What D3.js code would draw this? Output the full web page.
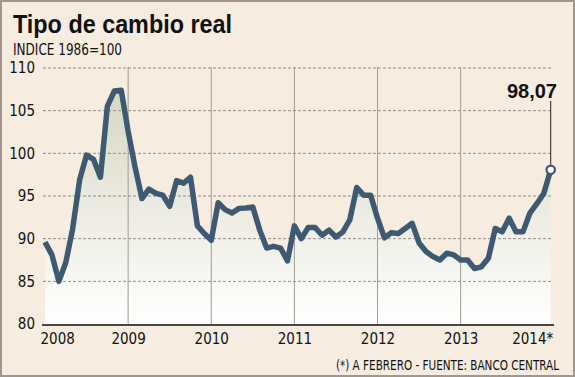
<!DOCTYPE html>
<html>
<head>
<meta charset="utf-8">
<script src="https://cdn.jsdelivr.net/npm/d3@7"></script>
<style>
  body { margin: 0; background: #fff; }
  svg { display: block; }
  .tick text { font-family: "DejaVu Sans Condensed", sans-serif; font-size: 15px; fill: #111; }
</style>
</head>
<body>
<svg width="575" height="377"></svg>
<script>
const svg = d3.select('svg');
const width  = +svg.attr('width');
const height = +svg.attr('height');

// monthly values, Jan 2008 - Feb 2014
const values2008 = [89.6, 88.1, 85.0, 87.2, 91.2, 96.9, 99.8, 99.3, 97.2, 105.5, 107.3, 107.4];
const values2009 = [102.6, 98.4, 94.7, 95.8, 95.3, 95.1, 93.8, 96.8, 96.5, 97.2, 91.5, 90.6];
const values2010 = [89.8, 94.2, 93.4, 93.0, 93.55, 93.6, 93.7, 91.0, 88.9, 89.1, 88.9, 87.4];
const values2011 = [91.5, 90.0, 91.3, 91.3, 90.4, 91.0, 90.2, 90.8, 92.2, 96.0, 95.1, 95.1];
const values2012 = [92.4, 90.1, 90.7, 90.6, 91.2, 91.8, 89.5, 88.5, 87.9, 87.5, 88.3, 88.1];
const values2013 = [87.5, 87.5, 86.5, 86.7, 87.7, 91.2, 90.8, 92.4, 90.8, 90.8, 93.0, 94.1];
const values2014 = [95.3, 98.07];
const years = ['2008', '2009', '2010', '2011', '2012', '2013', '2014*'];
const yTicks = [80, 85, 90, 95, 100, 105, 110];
const lastLabel = '98,07';

const data = [].concat(values2008, values2009, values2010, values2011, values2012, values2013, values2014)
  .map((v, i) => ({month: i, value: v}));

const x = d3.scaleLinear().domain([0, 73]).range([45, 550.7]);
const y = d3.scaleLinear().domain([80, 110]).range([324, 68]);

// background + frame
svg.append('rect')
    .attr('x', 1).attr('y', 1)
    .attr('width', width - 2).attr('height', height - 2)
    .attr('fill', '#f6ecdf')
    .attr('stroke', '#a3968f')
    .attr('stroke-width', 2);

// gradient for the area under the line
const grad = svg.append('defs').append('linearGradient')
    .attr('id', 'fillGrad')
    .attr('gradientUnits', 'userSpaceOnUse')
    .attr('x1', 0).attr('x2', 0)
    .attr('y1', y(108)).attr('y2', y(80));
grad.append('stop').attr('offset', '0%').attr('stop-color', '#d6d6c2');
grad.append('stop').attr('offset', '100%').attr('stop-color', '#ffffff');

const area = d3.area()
    .x(d => x(d.month))
    .y0(y(80))
    .y1(d => y(d.value));

svg.append('path')
    .datum(data)
    .attr('fill', 'url(#fillGrad)')
    .attr('d', area);

// horizontal dashed grid
svg.append('g')
  .selectAll('line')
  .data(yTicks.filter(t => t > 80))
  .join('line')
    .attr('x1', 43).attr('x2', 553)
    .attr('y1', d => y(d)).attr('y2', d => y(d))
    .attr('stroke', '#968d86')
    .attr('stroke-width', 1)
    .attr('stroke-dasharray', '3,2');

// vertical year lines
svg.append('g')
  .selectAll('line')
  .data(d3.range(1, 6))
  .join('line')
    .attr('x1', d => x(d * 12)).attr('x2', d => x(d * 12))
    .attr('y1', y(110) - 1).attr('y2', y(80))
    .attr('stroke', '#a29b96')
    .attr('stroke-width', 1);

// the line
const line = d3.line()
    .x(d => x(d.month))
    .y(d => y(d.value));

svg.append('path')
    .datum(data)
    .attr('fill', 'none')
    .attr('stroke', '#3e5a72')
    .attr('stroke-width', 5.5)
    .attr('stroke-linejoin', 'round')
    .attr('d', line);

// y axis labels
const yAxis = svg.append('g')
    .attr('transform', 'translate(37,0)')
    .call(d3.axisLeft(y).tickValues(yTicks).tickSize(0).tickPadding(2));
yAxis.select('.domain').remove();

// x axis
const xAxis = svg.append('g')
    .attr('transform', `translate(0,${y(80) + 1})`)
    .call(d3.axisBottom(x)
      .tickValues(d3.range(0, 73, 12))
      .tickFormat((d, i) => years[i])
      .tickSize(0).tickPadding(8));
xAxis.select('.domain').remove();
xAxis.append('line')
    .attr('x1', 42).attr('x2', 554)
    .attr('stroke', '#111').attr('stroke-width', 1.6);
xAxis.selectAll('.tick').filter((d, i) => i === 0)
    .select('text').attr('text-anchor', 'start').attr('x', -5);
xAxis.selectAll('.tick').filter((d, i) => i === years.length - 1)
    .select('text').attr('text-anchor', 'end').attr('x', 9);

// last value annotation
const last = data[data.length - 1];
svg.append('line')
    .attr('x1', x(last.month)).attr('x2', x(last.month))
    .attr('y1', 101).attr('y2', y(last.value))
    .attr('stroke', '#222').attr('stroke-width', 1);
svg.append('circle')
    .attr('cx', x(last.month)).attr('cy', y(last.value))
    .attr('r', 4.2)
    .attr('fill', '#fff')
    .attr('stroke', '#3e5a72')
    .attr('stroke-width', 2.2);
svg.append('text')
    .attr('x', 557).attr('y', 98)
    .attr('text-anchor', 'end')
    .attr('font-family', '"Liberation Sans", sans-serif')
    .attr('font-weight', 'bold')
    .attr('font-size', 20)
    .attr('fill', '#111')
    .text(lastLabel);

// titles
svg.append('text')
    .attr('x', 13).attr('y', 33)
    .attr('font-family', '"Liberation Sans", sans-serif')
    .attr('font-weight', 'bold')
    .attr('font-size', 25)
    .attr('textLength', 219)
    .attr('lengthAdjust', 'spacingAndGlyphs')
    .attr('fill', '#111')
    .text('Tipo de cambio real');

svg.append('text')
    .attr('x', 13).attr('y', 55)
    .attr('font-family', '"DejaVu Sans Condensed", sans-serif')
    .attr('font-size', 16)
    .attr('textLength', 109)
    .attr('lengthAdjust', 'spacingAndGlyphs')
    .attr('fill', '#111')
    .text('INDICE 1986=100');

// source note, narrowed to fit the corner
svg.append('text')
    .attr('transform', 'translate(559,370) scale(0.8,1)')
    .attr('text-anchor', 'end')
    .attr('font-family', '"DejaVu Sans Condensed", sans-serif')
    .attr('font-size', 14.5)
    .attr('fill', '#111')
    .text('(*) A FEBRERO - FUENTE: BANCO CENTRAL');
</script>
</body>
</html>
